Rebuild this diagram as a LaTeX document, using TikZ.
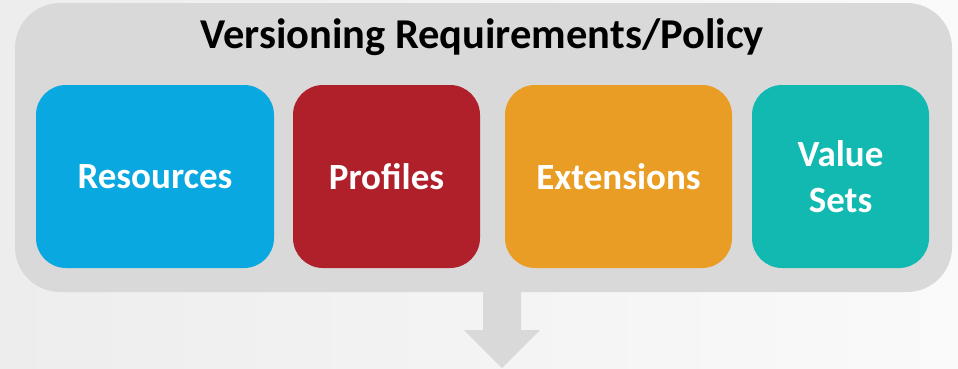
\documentclass[tikz,border=0pt]{standalone}
\usepackage{fontspec}
\setmainfont{Carlito}
\definecolor{bgA}{HTML}{EDEDED}
\definecolor{bgB}{HTML}{FAFAFA}
\definecolor{panel}{HTML}{D9D9D9}
\definecolor{cblue}{HTML}{09A8E0}
\definecolor{cred}{HTML}{B0202B}
\definecolor{corange}{HTML}{EA9D24}
\definecolor{cteal}{HTML}{12B9B1}
\begin{document}
\begin{tikzpicture}[x=1pt,y=-1pt,
  catbox/.style={rounded corners=30pt, inner sep=0pt, outer sep=0pt, text=white,
    font=\fontsize{37}{46}\selectfont\bfseries, align=center},
  titletext/.style={font=\fontsize{42.5}{50}\selectfont\bfseries, text=black, inner sep=0pt}]
\useasboundingbox (0,0) rectangle (958,368);
\shade[left color=bgA, right color=bgB] (0,0) rectangle (958,368);
% outer panel
\fill[panel, rounded corners=45pt] (15,3) rectangle (952,292);
% arrow
\fill[panel] (483,291) -- (521,291) -- (521,330) -- (540,330) -- (502,368) -- (464,330) -- (483,330) -- cycle;
\node[titletext] (title) at (482,37) {Versioning Requirements/Policy};
\node[catbox, fill=cblue, minimum width=238pt, minimum height=183pt] (res) at (155,176.5) {Resources};
\node[catbox, fill=cred, minimum width=187pt, minimum height=183pt] (pro) at (386.5,176.5) {Profiles};
\node[catbox, fill=corange, minimum width=227pt, minimum height=183pt] (ext) at (618.5,176.5) {Extensions};
\node[catbox, fill=cteal, minimum width=177pt, minimum height=183pt] (val) at (840.5,176.5) {Value\\Sets};
\end{tikzpicture}
\end{document}
